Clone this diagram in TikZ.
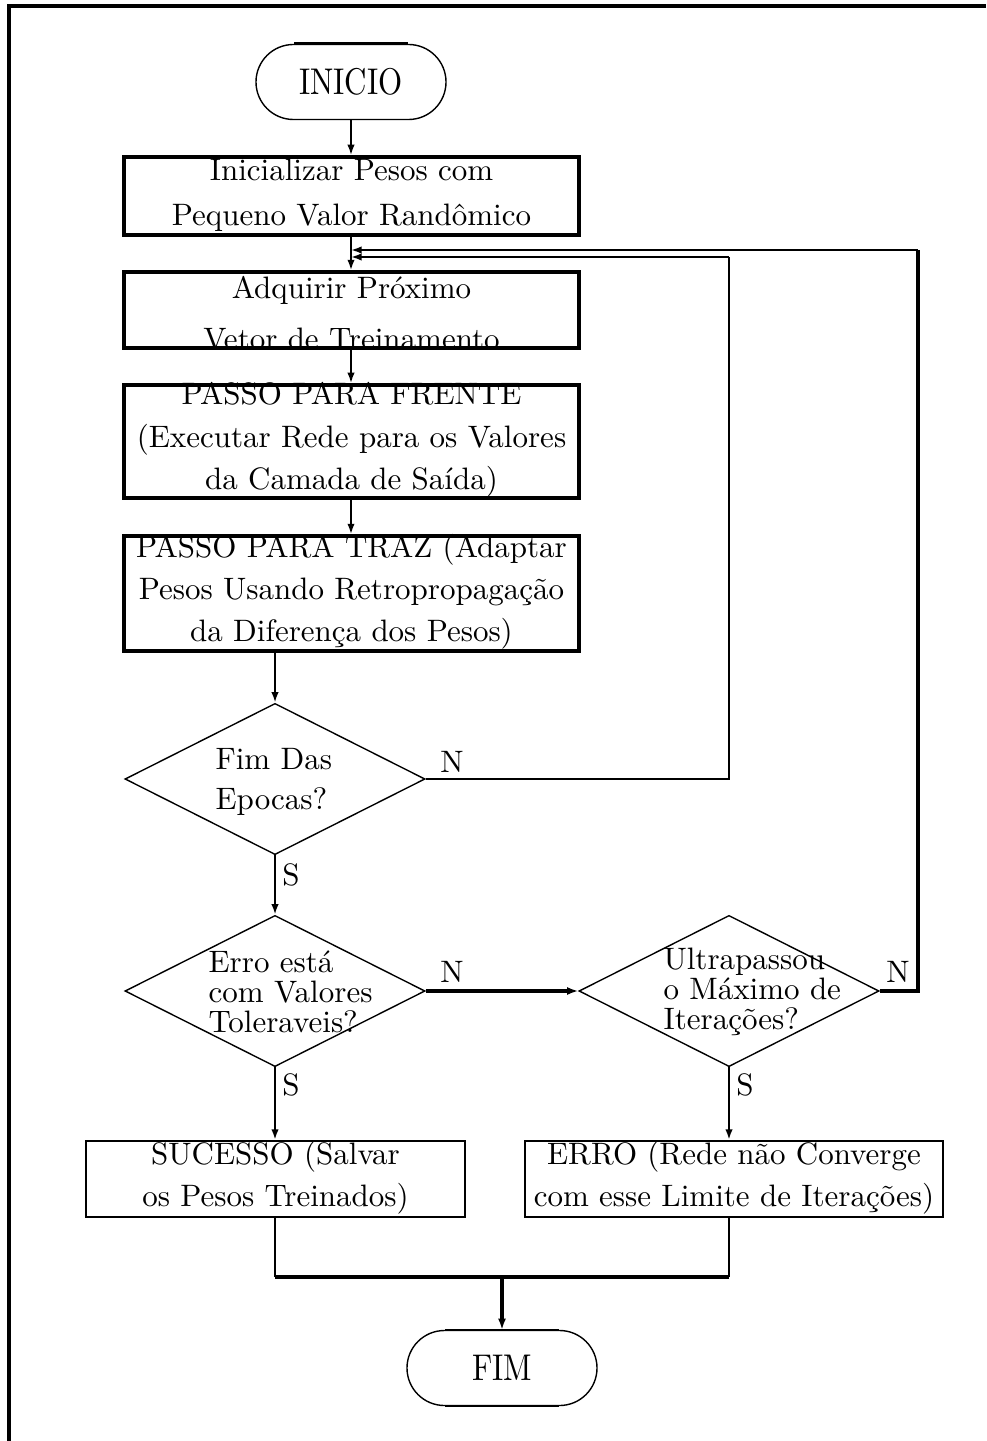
\documentclass[tikz,border=0pt]{standalone}
\usetikzlibrary{shapes.geometric,shapes.misc,arrows.meta,calc}
\begin{document}
\begin{tikzpicture}[x=0.3226pt,y=-0.3226pt,
  terminal/.style={rounded rectangle,draw,line width=0.45pt,minimum width=61.3pt,minimum height=24.2pt,inner sep=0pt},
  stepbox/.style={rectangle,draw,line width=1.1pt,minimum width=146.8pt,inner sep=0pt},
  endbox/.style={rectangle,draw,line width=0.75pt,minimum height=24.5pt,inner sep=0pt},
  decision/.style={diamond,draw,line width=0.45pt,minimum width=96.8pt,minimum height=48.8pt,inner sep=0pt},
  txt/.style={align=center,inner sep=0pt},
  dtxt/.style={align=left,anchor=west,inner sep=0pt},
  lbl/.style={inner sep=0pt},
  conn/.style={line width=0.65pt},
  arr/.style={line width=0.65pt,-{Latex[length=3.4pt,width=2.4pt]}},
  heavy/.style={line width=1pt},
  heavyarr/.style={line width=1pt,-{Latex[length=3.6pt,width=2.6pt]}}]
\useasboundingbox (0,0) rectangle (986,1441);

% page frame
\draw[line width=1pt] (9,1441) -- (9,6) -- (986,6);

% terminals
\node[terminal] (ini) at (351,82) {\scalebox{1}[1.2]{INICIO}};
\node[terminal] (fim) at (502,1368) {\scalebox{1}[1.2]{FIM}};
\draw[line width=1pt] ($(ini.north)+(-57,0)$) -- ($(ini.north)+(57,0)$);
\draw[line width=0.8pt] ($(fim.north)+(-57,0)$) -- ($(fim.north)+(57,0)$);
\draw[line width=0.8pt] ($(fim.south)+(-57,0)$) -- ($(fim.south)+(57,0)$);

% process boxes
\node[stepbox,minimum height=25.2pt] (b1) at (351.5,196) {};
\node[stepbox,minimum height=24.5pt] (b2) at (351.5,310) {};
\node[stepbox,minimum height=36.5pt] (b3) at (351.5,441.5) {};
\node[stepbox,minimum height=37.1pt] (b4) at (351.5,593.5) {};
\node[endbox,minimum width=122.3pt] (b5) at (275.5,1179) {};
\node[endbox,minimum width=134.8pt] (b6) at (734,1179) {};

\node[txt,font=\fontsize{10}{14.5}\selectfont] (t1) at (351.5,195) {Inicializar Pesos com\\Pequeno Valor Randômico};
\node[txt,font=\fontsize{10}{16.5}\selectfont] (t2) at (351.5,313) {Adquirir Próximo\\Vetor de Treinamento};
\node[txt,font=\fontsize{10}{13.7}\selectfont] (t3) at (351.5,440) {PASSO PARA FRENTE\\(Executar Rede para os Valores\\da Camada de Saída)};
\node[txt,font=\fontsize{10}{13.5}\selectfont] (t4) at (351.5,592) {PASSO PARA TRAZ (Adaptar\\Pesos Usando Retropropagação\\da Diferença dos Pesos)};
\node[txt,font=\fontsize{10}{13.5}\selectfont] (t5) at (275.5,1178) {SUCESSO (Salvar\\os Pesos Treinados)};
\node[txt,font=\fontsize{10}{13.5}\selectfont] (t6) at (734,1178) {ERRO (Rede não Converge\\com esse Limite de Iterações)};

% decisions
\node[decision] (d1) at (275,779) {};
\node[decision] (d2) at (275,991) {};
\node[decision] (d3) at (729,991) {};

\node[dtxt,font=\fontsize{10}{12.9}\selectfont] (q1) at (215,782) {Fim Das\\Epocas?};
\node[dtxt,font=\fontsize{10}{9.7}\selectfont] (q2) at (208,992) {Erro está\\com Valores\\Toleraveis?};
\node[dtxt,font=\fontsize{10}{9.7}\selectfont] (q3) at (663,992) {Ultrapassou\\o Máximo de\\Iterações?};

% branch labels
\node[lbl] (n1) at (452,762) {N};
\node[lbl] (s1) at (291,875) {S};
\node[lbl] (n2) at (452,972) {N};
\node[lbl] (n3) at (898,972) {N};
\node[lbl] (s2) at (291,1085) {S};
\node[lbl] (s3) at (745,1085) {S};

% loop-back points on the main line
\coordinate (c1) at (729,257);
\coordinate (m1) at (351,257);
\coordinate (c2) at (918,250);
\coordinate (m2) at (351,250);
\coordinate (j5) at (275,1277);
\coordinate (j6) at (729,1277);
\coordinate (jm) at (502,1277);

% connectors
\draw[arr] (ini.south) -- (ini.south |- b1.north);
\draw[arr] (ini.south |- b1.south) -- (ini.south |- b2.north);
\draw[arr] (ini.south |- b2.south) -- (ini.south |- b3.north);
\draw[arr] (ini.south |- b3.south) -- (ini.south |- b4.north);
\draw[arr] (d1.north |- b4.south) -- (d1.north);
\draw[arr] (d1.south) -- (d2.north);
\draw[conn] (d1.east) -| (c1);
\draw[arr] (c1) -- (m1);
\draw[heavyarr] (d2.east) -- (d3.west);
\draw[heavy] (d3.east) -| (c2);
\draw[arr] (c2) -- (m2);
\draw[arr] (d2.south) -- (d2.south |- b5.north);
\draw[arr] (d3.south) -- (d3.south |- b6.north);
\draw[conn] (d2.south |- b5.south) -- (j5);
\draw[conn] (d3.south |- b6.south) -- (j6);
\draw[heavy] (j5) -- (j6);
\draw[heavyarr] (jm) -- (fim.north);
\end{tikzpicture}
\end{document}
